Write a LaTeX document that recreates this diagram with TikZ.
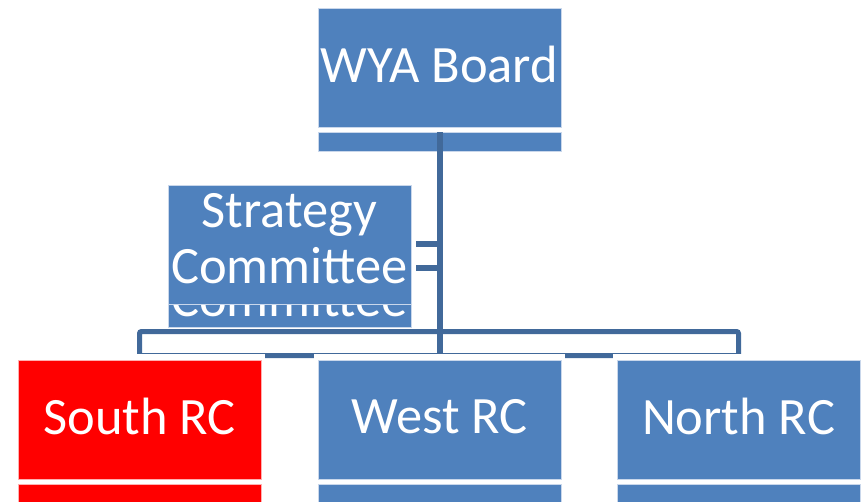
\documentclass[tikz,border=0pt]{standalone}
\usepackage{fontspec}
\setmainfont{Carlito}
\definecolor{boxblue}{HTML}{4F81BD}
\definecolor{linkblue}{HTML}{41699A}
\definecolor{edgeblue}{HTML}{C9D7EB}
\definecolor{edgered}{HTML}{FFB0B0}
\begin{document}
\begin{tikzpicture}[x=1pt,y=-1pt,
  bigfont/.style={font=\fontsize{52.5}{56}\selectfont},
  boxstyle/.style={draw=edgeblue, line width=0.8pt, fill=boxblue, minimum width=243pt, minimum height=119pt, inner sep=0pt, outer sep=0pt, anchor=north west},
  redbox/.style={boxstyle, fill=red, draw=edgered},
  label/.style={text=white, bigfont, inner sep=0pt, align=center},
  stripstyle/.style={draw=edgeblue, line width=0.8pt, fill=boxblue, minimum width=243pt, inner sep=0pt, outer sep=0pt, anchor=north west},
  redstrip/.style={stripstyle, fill=red, draw=edgered},
  link/.style={draw=linkblue, line width=6pt},
  halo/.style={fill=white}]
\useasboundingbox (0,0) rectangle (862,501);
% strips under the boxes
\node[stripstyle, minimum height=19pt] (wyas) at (318,132) {};
\node[stripstyle, minimum height=23pt] (scs) at (168,304) {};
\node[redstrip, minimum height=20pt] (souths) at (18,484) {};
\node[stripstyle, minimum height=20pt] (wests) at (318,484) {};
\node[stripstyle, minimum height=20pt] (norths) at (617,484) {};
% overflowing text in the strategy strip
\begin{scope}
  \clip (168,303) rectangle (411,327);
  \node[label, anchor=base] (ghost) at (289.5,316) {Committee};
\end{scope}
% connectors
\coordinate (bl) at (139.5,331.5);
\coordinate (br) at (738.5,355.5);
\draw[link, line width=5pt, rounded corners=2pt] (bl) rectangle (br);
\draw[link] (wyas.north) -- (wyas.north |- br);
\coordinate (st1) at (416,243.5);
\coordinate (st2) at (416,268);
\draw[link] (st1) -- (wyas.north |- st1);
\draw[link] (st2) -- (wyas.north |- st2);
% main boxes
\node[boxstyle] (wya) at (318,8) {};
\node[label] (wyatext) at ([yshift=3pt]wya.center) {WYA Board};
\node[boxstyle] (sc) at (168,185) {};
\node[label] (sctext) at ([yshift=6pt]sc.center) {Strategy\\Committee};
\fill[halo] (14,354) rectangle (265,362);
\fill[halo] (314,354) rectangle (565,362);
\fill[halo] (613,354) rectangle (864,362);
\node[redbox] (south) at (18,360) {};
\node[label] (southtext) at ([yshift=3pt]south.center) {South RC};
\node[boxstyle] (west) at (318,360) {};
\node[label] (westtext) at ([yshift=3pt]west.center) {West RC};
\node[boxstyle] (north) at (617,360) {};
\node[label] (northtext) at ([yshift=3pt]north.center) {North RC};
\end{tikzpicture}
\end{document}
